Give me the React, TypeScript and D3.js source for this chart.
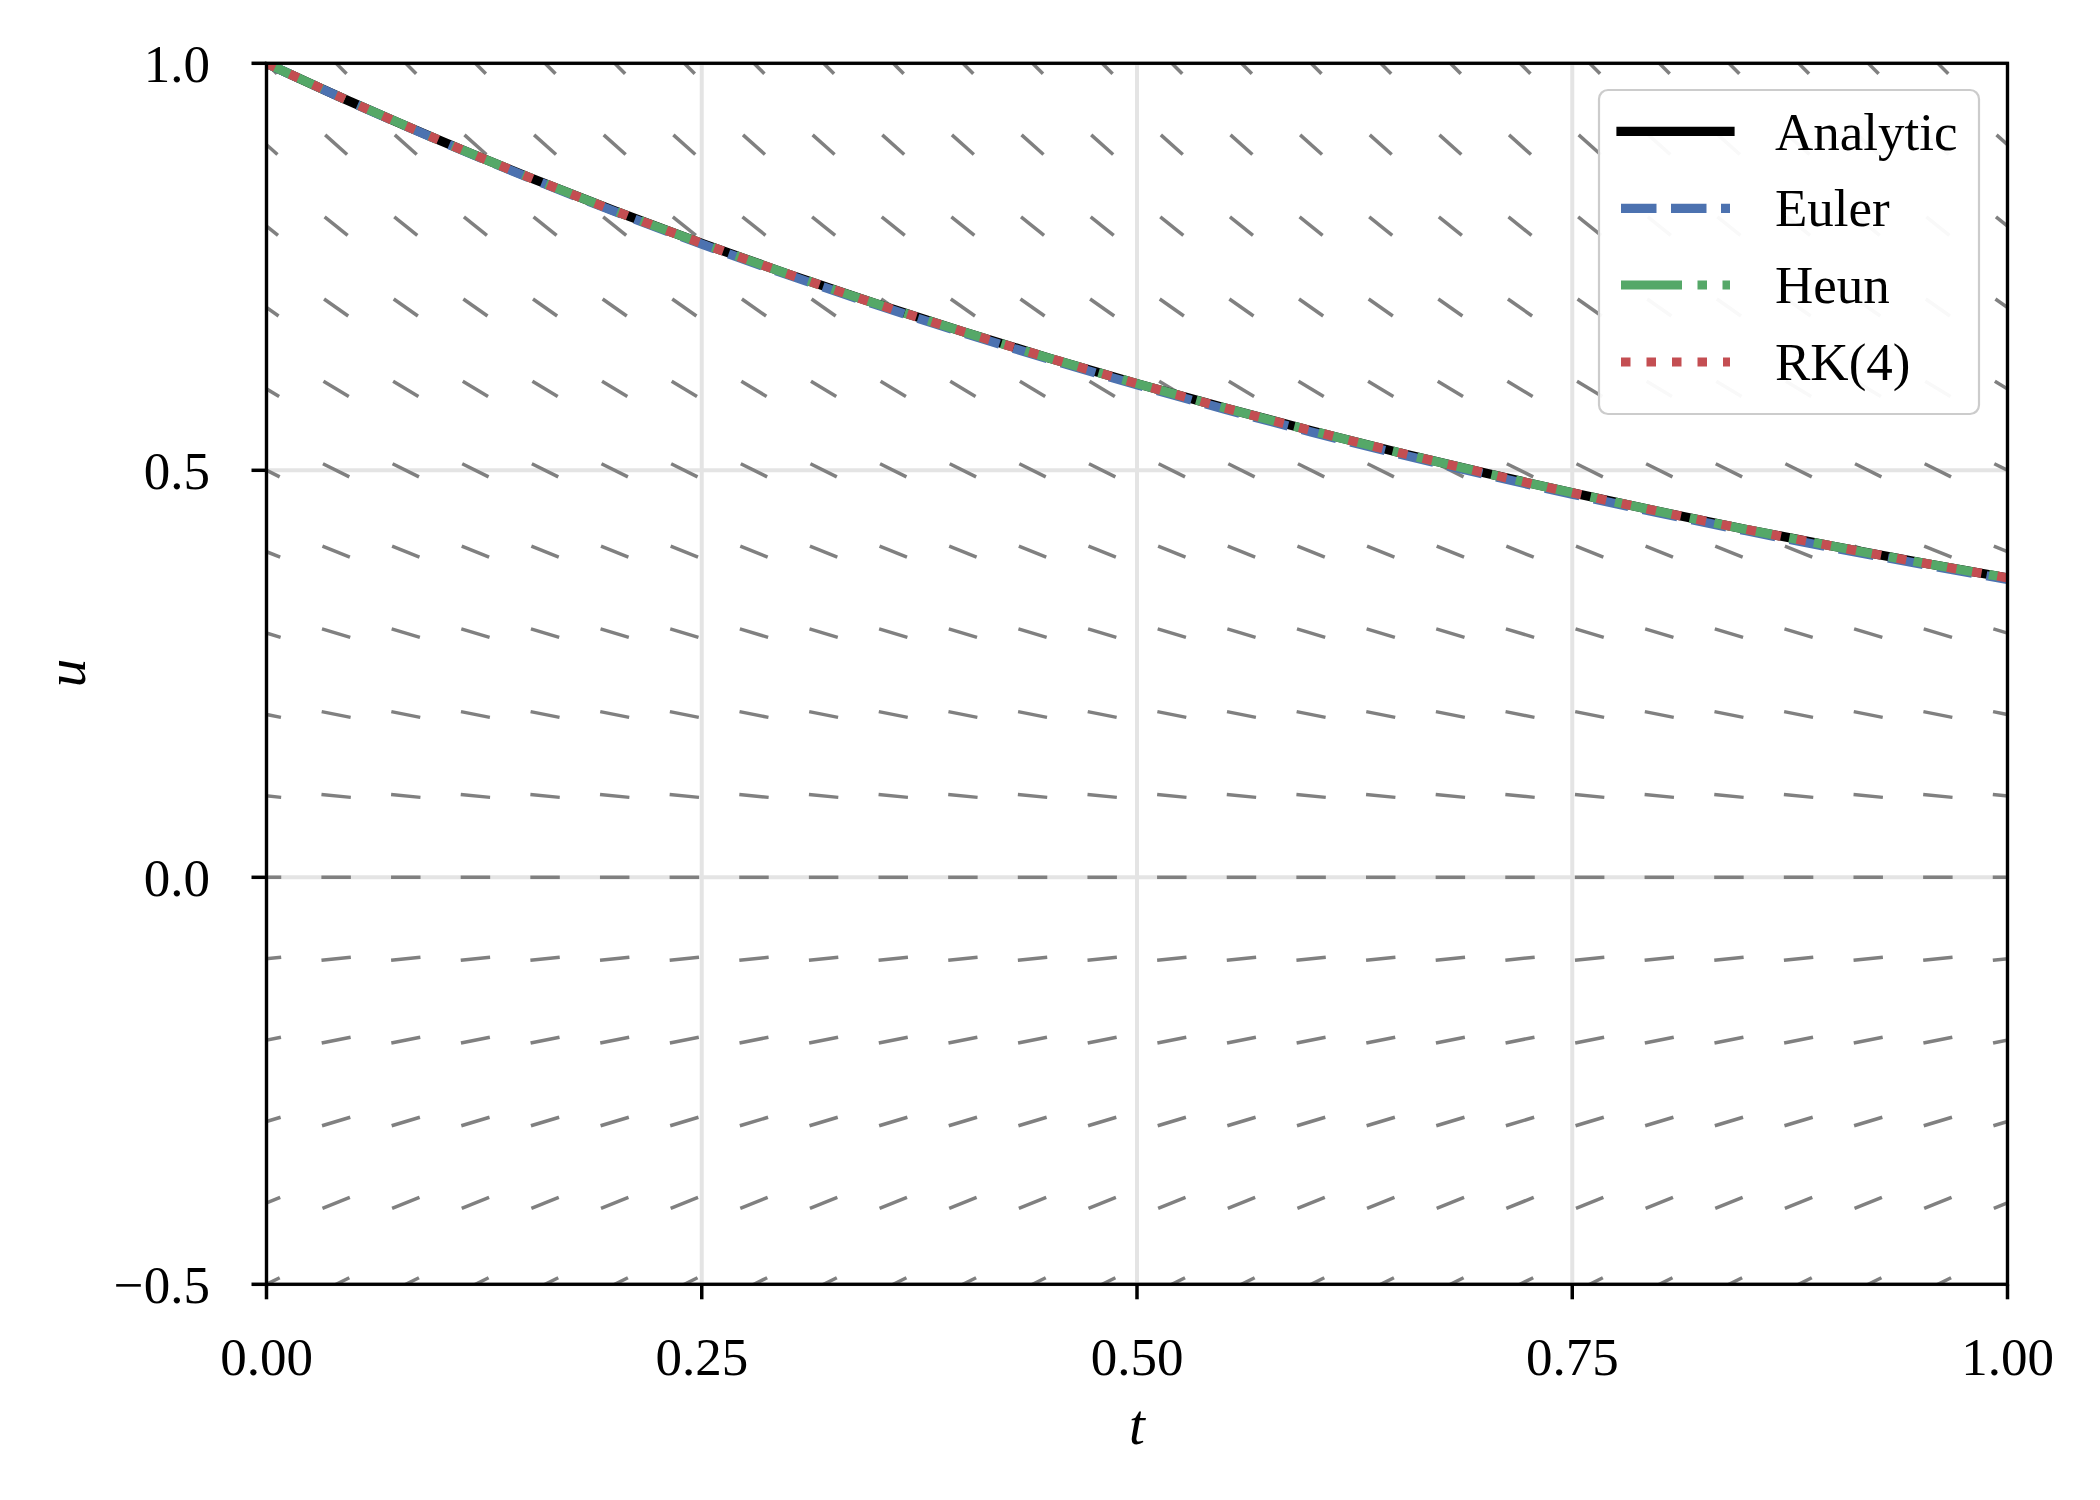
import React from "react";
import * as d3 from "d3";

// ---- data ----
const T_VALUES = [0, 0.05, 0.1, 0.15, 0.2, 0.25, 0.3, 0.35, 0.4, 0.45, 0.5, 0.55, 0.6, 0.65, 0.7, 0.75, 0.8, 0.85, 0.9, 0.95, 1.0];
const ANALYTIC = [1.0, 0.9512, 0.9048, 0.8607, 0.8187, 0.7788, 0.7408, 0.7047, 0.6703, 0.6376, 0.6065, 0.5769, 0.5488, 0.522, 0.4966, 0.4724, 0.4493, 0.4274, 0.4066, 0.3867, 0.3679];
const EULER = [1.0, 0.951, 0.9044, 0.8601, 0.8179, 0.7778, 0.7397, 0.7035, 0.669, 0.6362, 0.605, 0.5753, 0.5471, 0.5203, 0.4948, 0.4706, 0.4475, 0.4256, 0.4047, 0.3849, 0.366];
const HEUN = [1.0, 0.9512, 0.9048, 0.8607, 0.8187, 0.7788, 0.7408, 0.7047, 0.6703, 0.6376, 0.6065, 0.5769, 0.5488, 0.522, 0.4966, 0.4724, 0.4493, 0.4274, 0.4066, 0.3867, 0.3679];
const RK4 = [1.0, 0.9512, 0.9048, 0.8607, 0.8187, 0.7788, 0.7408, 0.7047, 0.6703, 0.6376, 0.6065, 0.5769, 0.5488, 0.522, 0.4966, 0.4724, 0.4493, 0.4274, 0.4066, 0.3867, 0.3679];

// direction field grid
const FIELD_T = [0, 0.04, 0.08, 0.12, 0.16, 0.2, 0.24, 0.28, 0.32, 0.36, 0.4, 0.44, 0.48, 0.52, 0.56, 0.6, 0.64, 0.68, 0.72, 0.76, 0.8, 0.84, 0.88, 0.92, 0.96, 1.0];
const FIELD_U = [-0.5, -0.4, -0.3, -0.2, -0.1, 0.0, 0.1, 0.2, 0.3, 0.4, 0.5, 0.6, 0.7, 0.8, 0.9, 1.0];
const FIELD_SLOPE = [0.5, 0.4, 0.3, 0.2, 0.1, 0.0, -0.1, -0.2, -0.3, -0.4, -0.5, -0.6, -0.7, -0.8, -0.9, -1.0];

const X_TICKS = [0, 0.25, 0.5, 0.75, 1.0];
const X_TICK_LABELS = ["0.00", "0.25", "0.50", "0.75", "1.00"];
const Y_TICKS = [-0.5, 0.0, 0.5, 1.0];
const Y_TICK_LABELS = ["\u22120.5", "0.0", "0.5", "1.0"];

const SERIES_NAMES = ["Analytic", "Euler", "Heun", "RK(4)"];
const SERIES_COLORS = ["#000000", "#4C72B0", "#55A868", "#C44E52"];
const SERIES_DASH = ["", "35.5 14.5", "61 15.5 9.5 15.5", "9.5 16"];

const FONT = "'Liberation Serif', 'Times New Roman', serif";

export default function App() {
  const W = 2100, H = 1500;
  const left = 266.5, right = 2007.5, top = 63.3, bottom = 1284.3;
  const x = d3.scaleLinear().domain([0, 1]).range([left, right]);
  const y = d3.scaleLinear().domain([-0.5, 1.0]).range([bottom, top]);

  const seriesData = [ANALYTIC, EULER, HEUN, RK4];
  const line = d3
    .line<[number, number]>()
    .x((d) => x(d[0]))
    .y((d) => y(d[1]))
    .curve(d3.curveMonotoneX);

  const segLen = 29.5;
  const segments: { x1: number; y1: number; x2: number; y2: number; k: string }[] = [];
  FIELD_U.forEach((u, i) => {
    const s = FIELD_SLOPE[i];
    const n = Math.sqrt(1 + s * s);
    const dx = (segLen / 2) / n;
    const dy = (segLen / 2) * s / n;
    FIELD_T.forEach((t, j) => {
      const cx = x(t), cy = y(u);
      segments.push({ x1: cx - dx, y1: cy + dy, x2: cx + dx, y2: cy - dy, k: `${i}-${j}` });
    });
  });

  const lw = 9.2;
  const legendX = 1599, legendY = 90, legendW = 380, legendH = 324;
  const legendRows = [131.3, 208.3, 285, 362];
  const legendText = [150, 226, 303, 380];

  return (
    <svg width={W} height={H} style={{ position: "absolute", left: 0, top: 0, background: "#fff" }}>
      <defs>
        <clipPath id="plotClip">
          <rect x={left} y={top} width={right - left} height={bottom - top} />
        </clipPath>
      </defs>
      <rect x={0} y={0} width={W} height={H} fill="#fff" />
      {/* grid */}
      <g stroke="#e4e4e4" strokeWidth={4}>
        {X_TICKS.map((t) => (
          <line key={"gx" + t} x1={x(t)} x2={x(t)} y1={top} y2={bottom} />
        ))}
        {Y_TICKS.map((u) => (
          <line key={"gy" + u} x1={left} x2={right} y1={y(u)} y2={y(u)} />
        ))}
      </g>
      {/* direction field */}
      <g clipPath="url(#plotClip)" stroke="#808080" strokeWidth={3.5}>
        {segments.map((s) => (
          <line key={s.k} x1={s.x1} y1={s.y1} x2={s.x2} y2={s.y2} />
        ))}
      </g>
      {/* solution curves */}
      <g clipPath="url(#plotClip)" fill="none">
        {seriesData.map((vals, i) => (
          <path
            key={SERIES_NAMES[i]}
            d={line(T_VALUES.map((t, j) => [t, vals[j]] as [number, number])) || ""}
            stroke={SERIES_COLORS[i]}
            strokeWidth={lw}
            strokeDasharray={SERIES_DASH[i] || undefined}
            strokeLinecap={i === 0 ? "square" : "butt"}
          />
        ))}
      </g>
      {/* spines */}
      <rect x={left} y={top} width={right - left} height={bottom - top} fill="none" stroke="#000" strokeWidth={3.3} />
      {/* ticks */}
      <g stroke="#000" strokeWidth={3.5}>
        {X_TICKS.map((t) => (
          <line key={"tx" + t} x1={x(t)} x2={x(t)} y1={bottom} y2={bottom + 15} />
        ))}
        {Y_TICKS.map((u) => (
          <line key={"ty" + u} x1={left - 15} x2={left} y1={y(u)} y2={y(u)} />
        ))}
      </g>
      <g fontFamily={FONT} fontSize={53} fill="#000">
        {X_TICKS.map((t, i) => (
          <text key={"lx" + t} x={x(t)} y={1375} textAnchor="middle">
            {X_TICK_LABELS[i]}
          </text>
        ))}
        {Y_TICKS.map((u, i) => (
          <text key={"ly" + u} x={210} y={y(u) + 19} textAnchor="end">
            {Y_TICK_LABELS[i]}
          </text>
        ))}
        <text x={1137} y={1444} textAnchor="middle" fontStyle="italic" fontSize={57}>t</text>
        <text transform="translate(85,673) rotate(-90)" textAnchor="middle" fontStyle="italic" fontSize={57}>u</text>
      </g>
      {/* legend */}
      <g>
        <rect
          x={legendX}
          y={legendY}
          width={legendW}
          height={legendH}
          rx={9}
          ry={9}
          fill="#ffffff"
          fillOpacity={0.95}
          stroke="#cccccc"
          strokeWidth={2.2}
        />
        {SERIES_NAMES.map((name, i) => (
          <g key={"lg" + name}>
            <line
              x1={1621}
              x2={1730}
              y1={legendRows[i]}
              y2={legendRows[i]}
              stroke={SERIES_COLORS[i]}
              strokeWidth={lw}
              strokeDasharray={SERIES_DASH[i] || undefined}
              strokeLinecap={i === 0 ? "square" : "butt"}
            />
            <text x={1775} y={legendText[i]} fontFamily={FONT} fontSize={53} fill="#000">
              {name}
            </text>
          </g>
        ))}
      </g>
    </svg>
  );
}
